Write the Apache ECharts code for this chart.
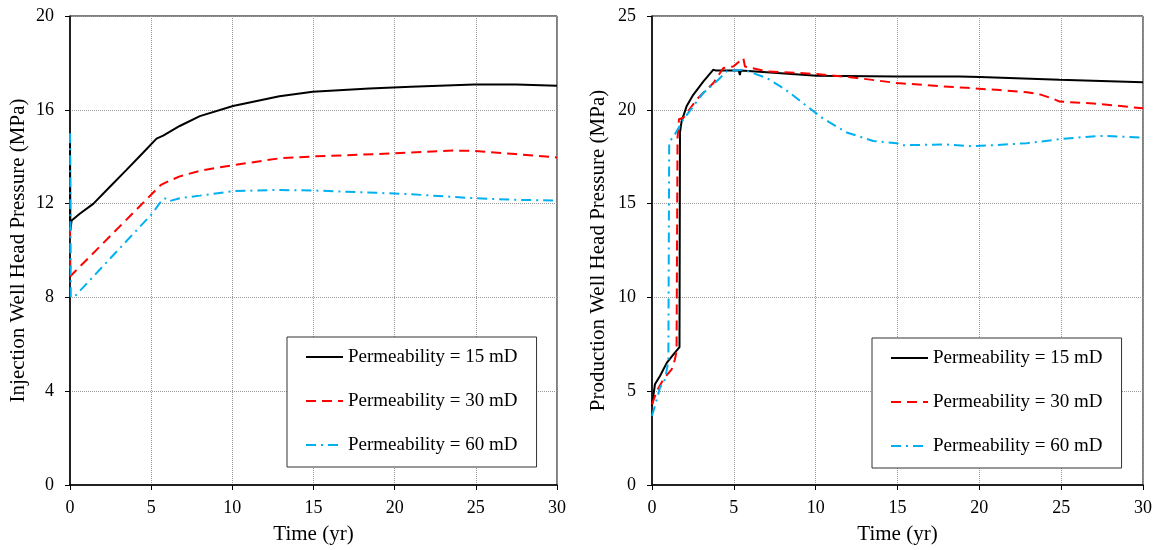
<!DOCTYPE html>
<html>
<head>
<meta charset="utf-8">
<script src="https://cdn.jsdelivr.net/npm/echarts@6/dist/echarts.min.js"></script>
<style>
html,body{margin:0;padding:0;background:#fff;}
#chart{width:1162px;height:550px;}
</style>
</head>
<body>
<div id="chart"></div>
<script>
// ---- Data (time in yr, pressure in MPa) ----
const seriesNames = ['Permeability = 15 mD', 'Permeability = 30 mD', 'Permeability = 60 mD'];
const xTicks = [0, 5, 10, 15, 20, 25, 30];

// Injection well head pressure
const inj15 = [[0,15.0],[0.02,10.85],[0.1,11.28],[0.6,11.57],[1.43,11.99],[2.46,12.72],[3.48,13.44],[4.5,14.17],[5.33,14.77],[5.74,14.9],[6.76,15.31],[8,15.73],[10.04,16.16],[12.9,16.58],[14.95,16.77],[18.44,16.91],[21,16.98],[24.9,17.08],[27.5,17.08],[30,17.03]];
const inj30 = [[0,11.0],[0.02,8.9],[0.1,8.95],[5.1,12.45],[5.6,12.8],[6.15,12.98],[6.76,13.16],[8,13.4],[10.04,13.64],[12.9,13.93],[14.95,14.01],[18.85,14.11],[21,14.18],[23.56,14.26],[24.9,14.25],[27.46,14.11],[30,13.97]];
const inj60 = [[0,15.0],[0.05,8.0],[0.3,8.05],[5.1,11.6],[5.5,12.0],[5.84,12.23],[6.1,12.1],[6.76,12.23],[8,12.34],[10.04,12.53],[12.5,12.58],[14.95,12.56],[18.85,12.46],[21,12.4],[24.9,12.23],[27.46,12.16],[30,12.13]];

// Production well head pressure
const prod15 = [[0,4.2],[0.04,4.49],[0.18,5.37],[0.49,5.81],[0.9,6.51],[1.3,6.95],[1.68,7.35],[1.71,18.8],[1.81,19.4],[2.12,20.2],[2.52,20.8],[3.13,21.5],[3.75,22.14],[3.85,22.23],[3.9,22.09],[5.3,22.09],[5.37,21.85],[5.42,22.09],[7.0,22.0],[10.06,21.82],[14.95,21.78],[18.8,21.78],[20.04,21.75],[24.9,21.6],[30,21.47]];
const prod30 = [[0,4.3],[0.29,5.0],[0.69,5.63],[1.2,6.16],[1.4,6.69],[1.5,7.13],[1.56,18.5],[1.65,19.5],[1.92,19.58],[2.73,20.55],[3.75,21.43],[4.36,22.23],[4.97,22.31],[5.58,22.76],[5.68,22.31],[7,22.05],[10.06,21.91],[12.5,21.7],[14.95,21.43],[17.6,21.26],[19.22,21.17],[21.26,21.05],[22.9,20.94],[23.7,20.82],[24.5,20.59],[24.9,20.44],[26.96,20.34],[30,20.08]];
const prod60 = [[0,3.69],[0.18,4.22],[0.49,5.19],[0.79,5.63],[1.0,6.6],[1.05,18.26],[1.4,18.7],[1.92,19.49],[3.13,20.9],[3.95,21.52],[4.56,22.05],[5.58,22.14],[7.0,21.7],[7.82,21.26],[8.43,20.9],[9.45,20.2],[10.46,19.53],[11.9,18.79],[13.52,18.34],[14.95,18.22],[15.15,18.11],[18.0,18.15],[19.5,18.06],[20.85,18.11],[22.9,18.22],[24.9,18.43],[26.35,18.55],[27.57,18.61],[30,18.52]];

const FONT = 'Liberation Serif, Times New Roman, serif';
const colors = ['#000000', '#ff0000', '#00b0f0'];
const lineTypes = ['solid', [10, 6], [10, 5, 2, 5]];

function xAxisCfg(gi) {
  return {
    type: 'value', gridIndex: gi, min: 0, max: 30, interval: 5,
    name: 'Time (yr)', nameLocation: 'middle', nameGap: 39,
    nameTextStyle: { fontFamily: FONT, fontSize: 21, color: '#000' },
    axisLine: { lineStyle: { color: '#000', width: 1.5 } },
    axisTick: { show: true, length: 5, lineStyle: { color: '#000' } },
    axisLabel: { fontFamily: FONT, fontSize: 18, color: '#000', margin: 14,
      formatter: v => xTicks.includes(v) ? String(v) : '' },
    splitLine: { show: true, lineStyle: { color: '#999', type: 'dotted', width: 1 } }
  };
}
function yAxisCfg(gi, max, interval, name, gap) {
  return {
    type: 'value', gridIndex: gi, min: 0, max: max, interval: interval,
    name: name, nameLocation: 'middle', nameGap: gap,
    nameTextStyle: { fontFamily: FONT, fontSize: 21, color: '#000' },
    axisLine: { show: true, lineStyle: { color: '#000', width: 1.5 } },
    axisTick: { show: true, length: 5, lineStyle: { color: '#000' } },
    axisLabel: { fontFamily: FONT, fontSize: 18, color: '#000', margin: 16 },
    splitLine: { show: true, lineStyle: { color: '#999', type: 'dotted', width: 1 } }
  };
}
function mkSeries(name, data, idx, gi) {
  return {
    type: 'line', name: name, data: data, xAxisIndex: gi, yAxisIndex: gi,
    symbol: 'none', showSymbol: false, smooth: false, clip: false,
    lineStyle: { color: colors[idx], width: 2, type: lineTypes[idx] },
    itemStyle: { color: colors[idx] },
    z: 2 + idx, animation: false
  };
}
function legendCfg(left, top) {
  return {
    left: left, top: top, orient: 'vertical',
    padding: [10, 19, 12, 18], itemGap: 24, itemWidth: 37, itemHeight: 14,
    borderColor: '#333', borderWidth: 1, backgroundColor: '#fff',
    itemStyle: { opacity: 0 },
    textStyle: { fontFamily: FONT, fontSize: 19, color: '#000', lineHeight: 20 },
    data: seriesNames, selectedMode: false
  };
}

const chart = echarts.init(document.getElementById('chart'), null, { renderer: 'canvas' });
chart.setOption({
  animation: false,
  backgroundColor: '#fff',
  grid: [
    { left: 70, right: 605, top: 16, bottom: 62, show: true, borderColor: '#000', borderWidth: 1 },
    { left: 652, right: 19, top: 16, bottom: 62, show: true, borderColor: '#000', borderWidth: 1 }
  ],
  xAxis: [xAxisCfg(0), xAxisCfg(1)],
  yAxis: [
    yAxisCfg(0, 20, 4, 'Injection Well Head Pressure (MPa)', 41),
    yAxisCfg(1, 25, 5, 'Production Well Head Pressure (MPa)', 43)
  ],
  legend: [legendCfg(287, 337), legendCfg(872, 338)],
  series: [
    mkSeries(seriesNames[0], inj15, 0, 0),
    mkSeries(seriesNames[1], inj30, 1, 0),
    mkSeries(seriesNames[2], inj60, 2, 0),
    mkSeries(seriesNames[0], prod15, 0, 1),
    mkSeries(seriesNames[1], prod30, 1, 1),
    mkSeries(seriesNames[2], prod60, 2, 1)
  ]
});
</script>
</body>
</html>
